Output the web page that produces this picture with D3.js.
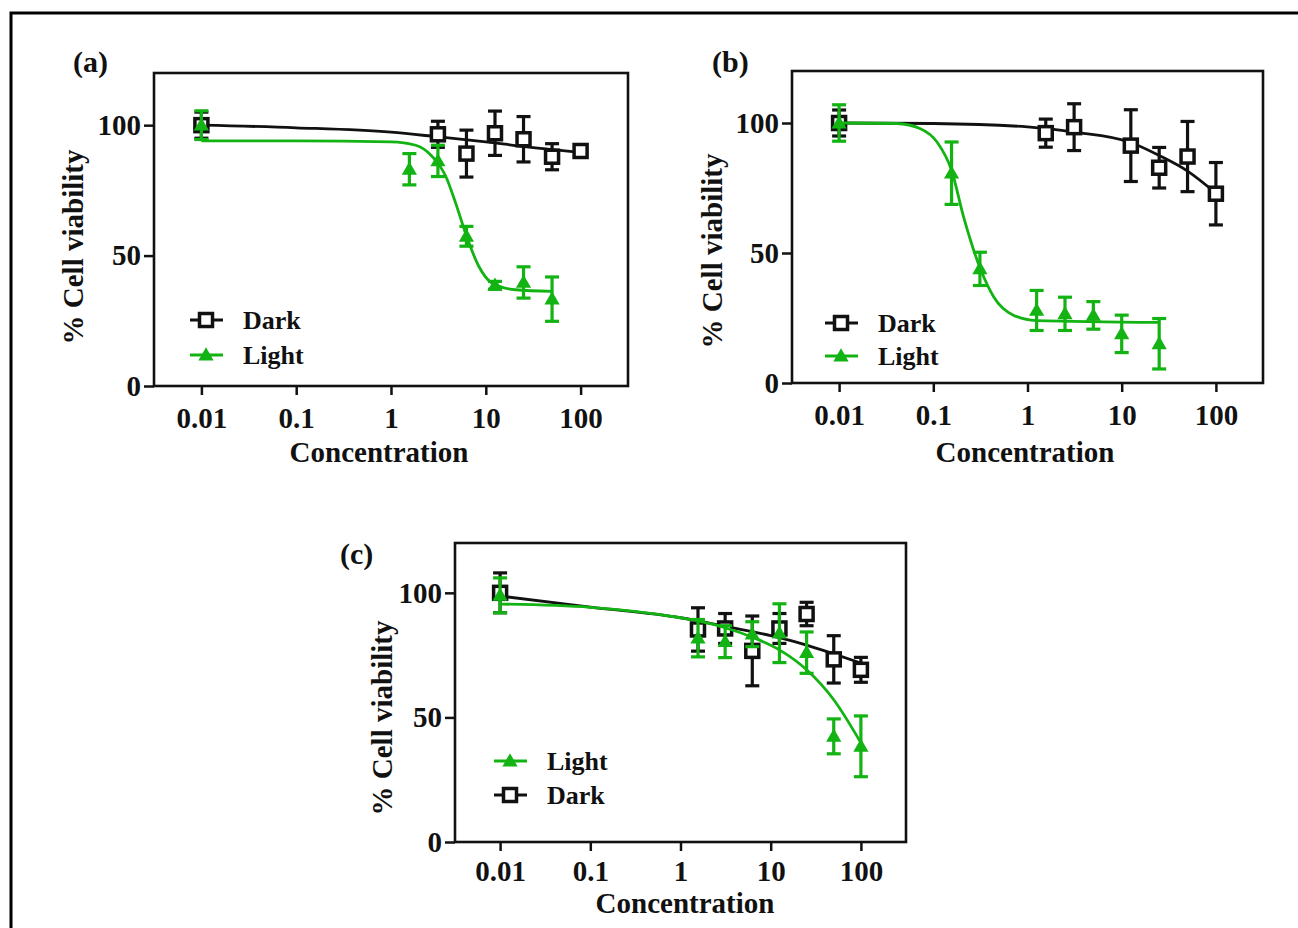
<!DOCTYPE html>
<html>
<head>
<meta charset="utf-8">
<script src="https://cdn.jsdelivr.net/npm/d3@7"></script>
<style>
  body { margin: 0; background: #fff; }
  text { font-family: "Liberation Serif", "Times New Roman", serif; font-weight: bold; fill: #111; }
</style>
</head>
<body>
<div id="container"></div>
<script>
const width = 1298;
const height = 928;
const green = "#12b312";
const dark = "#111";

// ---- data ----
const xTicks = [0.01, 0.1, 1, 10, 100];
const yTicks = [0, 50, 100];

// panel (a)
const aDarkConc = [0.01, 3.125, 6.25, 12.5, 25, 50, 100];
const aDarkMean = [100, 96.5, 89.1, 96.9, 94.6, 87.9, 90.1];
const aDarkErr  = [5, 5, 9, 8.5, 8.7, 5, 2];
const aLightConc = [0.01, 1.5625, 3.125, 6.25, 12.5, 25, 50];
const aLightMean = [100, 83.1, 86.3, 57.4, 38.6, 39.7, 33.3];
const aLightErr  = [5.5, 6, 6, 3.8, 1.5, 6, 8.5];
const aDarkFitX  = [0.01, 0.1, 1, 3, 10, 30, 100];
const aDarkFitY  = [100, 99, 97.3, 95.6, 93.6, 91.5, 89.6];
const aLightFitX = [0.01, 0.1, 1, 1.82, 2.69, 3.77, 4.79, 6.27, 8.43, 11.6, 20.6, 50];
const aLightFitY = [94, 94, 93.6, 92.3, 88.2, 80.5, 70.3, 57.4, 45.9, 39.5, 36.9, 36.3];

// panel (b)
const bDarkConc = [0.01, 1.5625, 3.125, 12.5, 25, 50, 100];
const bDarkMean = [100, 96.1, 98.4, 91.3, 82.8, 87.1, 72.8];
const bDarkErr  = [5, 5.4, 9, 13.8, 7.8, 13.5, 12];
const bLightConc = [0.01, 0.15625, 0.3125, 1.25, 2.5, 5, 10, 25];
const bLightMean = [100, 80.7, 43.9, 27.9, 26.6, 26, 18.9, 15.1];
const bLightErr  = [7, 12, 6.4, 7.7, 6.4, 5.3, 7.2, 9.7];
const bDarkFitX  = [0.01, 0.1, 1, 3.125, 12.5, 25, 50, 100];
const bDarkFitY  = [100, 99.8, 98.5, 96.5, 92.5, 87.5, 81.5, 73];
const bLightFitX = [0.01, 0.041, 0.073, 0.11, 0.156, 0.21, 0.316, 0.44, 0.716, 1.25, 25];
const bLightFitY = [100, 99.8, 97.8, 92.6, 81.9, 63.8, 43.9, 33, 26, 24, 23.3];

// panel (c)
const cDarkConc = [0.01, 1.5625, 3.125, 6.25, 12.5, 25, 50, 100];
const cDarkMean = [100, 85.3, 85.7, 76.7, 85.7, 91.5, 73.3, 69.1];
const cDarkErr  = [8, 8.7, 6, 14, 6, 4.7, 9.5, 5];
const cLightConc = [0.01, 1.5625, 3.125, 6.25, 12.5, 25, 50, 100];
const cLightMean = [99, 81.8, 80.4, 83.4, 83.8, 76, 42.4, 38.4];
const cLightErr  = [7, 7.5, 6.4, 5, 11.8, 8.3, 7, 12.2];
const cDarkFitX  = [0.01, 0.1, 1, 3.125, 12.5, 25, 50, 100];
const cDarkFitY  = [98.7, 94.3, 90, 86.5, 82, 79, 75.5, 71.8];
const cLightFitX = [0.01, 0.1, 1, 1.5625, 3.125, 6.25, 12.5, 25, 50, 100];
const cLightFitY = [95.5, 94.2, 90, 88.7, 86, 82.2, 77.1, 69.1, 57.1, 39.8];

const zip = (xs, ys, es) => xs.map((x, i) => ({x: x, y: ys[i], e: es ? es[i] : 0}));

const panels = [
  {
    label: "(a)", box: {left: 154, top: 73, right: 628, bottom: 386}, pad: 12,
    labelPos: [73, 72], xTitlePos: [379, 462], yTitlePos: [83, 247],
    dark: zip(aDarkConc, aDarkMean, aDarkErr), light: zip(aLightConc, aLightMean, aLightErr),
    darkFit: zip(aDarkFitX, aDarkFitY), lightFit: zip(aLightFitX, aLightFitY),
    legend: [["Dark", 190, 320], ["Light", 190, 355]]
  },
  {
    label: "(b)", box: {left: 792, top: 71, right: 1263, bottom: 383}, pad: 12,
    labelPos: [712, 72], xTitlePos: [1025, 462], yTitlePos: [722, 251],
    dark: zip(bDarkConc, bDarkMean, bDarkErr), light: zip(bLightConc, bLightMean, bLightErr),
    darkFit: zip(bDarkFitX, bDarkFitY), lightFit: zip(bLightFitX, bLightFitY),
    legend: [["Dark", 825, 323], ["Light", 825, 356]]
  },
  {
    label: "(c)", box: {left: 455, top: 543, right: 906, bottom: 842}, pad: 9,
    labelPos: [340, 564], xTitlePos: [685, 913], yTitlePos: [392, 718],
    dark: zip(cDarkConc, cDarkMean, cDarkErr), light: zip(cLightConc, cLightMean, cLightErr),
    darkFit: zip(cDarkFitX, cDarkFitY), lightFit: zip(cLightFitX, cLightFitY),
    legend: [["Light", 494, 761], ["Dark", 494, 795]]
  }
];

const svg = d3.select("#container")
              .append("svg")
              .attr("width", width)
              .attr("height", height);

svg.append("rect")
   .attr("width", width).attr("height", height)
   .attr("fill", "#fff");

// outer frame (runs off the right and bottom edge)
svg.append("rect")
   .attr("x", 11).attr("y", 13)
   .attr("width", 1400).attr("height", 1000)
   .attr("fill", "none")
   .attr("stroke", "#000")
   .attr("stroke-width", 3);

const triangle = d3.symbol().type(d3.symbolTriangle).size(100);

function drawMarker(g, kind, cx, cy) {
  if (kind === "Dark") {
    g.append("rect")
     .attr("x", cx - 6.5).attr("y", cy - 6.5)
     .attr("width", 13).attr("height", 13)
     .attr("fill", "#fff")
     .attr("stroke", dark)
     .attr("stroke-width", 3.5);
  } else {
    g.append("path")
     .attr("d", triangle())
     .attr("transform", "translate(" + cx + "," + (cy + 1) + ")")
     .attr("fill", green);
  }
}

panels.forEach(p => {
  const g = svg.append("g");
  const x = d3.scaleLog()
              .domain([Math.pow(10, -2.5), Math.pow(10, 2.5)])
              .range([p.box.left, p.box.right]);
  const y = d3.scaleLinear()
              .domain([0, 120])
              .range([p.box.bottom, p.box.top]);

  // axes
  const xAxis = g.append("g")
                 .attr("transform", "translate(0," + p.box.bottom + ")")
                 .call(d3.axisBottom(x).tickValues(xTicks).tickFormat(d3.format("~g"))
                         .tickSize(9).tickSizeOuter(0).tickPadding(p.pad));
  const yAxis = g.append("g")
                 .attr("transform", "translate(" + p.box.left + ",0)")
                 .call(d3.axisLeft(y).tickValues(yTicks).tickSize(10).tickSizeOuter(0).tickPadding(3));
  [xAxis, yAxis].forEach(a => {
    a.select(".domain").remove();
    a.selectAll(".tick line").attr("stroke", dark).attr("stroke-width", 2.5);
    a.selectAll(".tick text")
     .attr("fill", dark)
     .style("font-size", "29px");
  });

  g.append("rect")
   .attr("x", p.box.left).attr("y", p.box.top)
   .attr("width", p.box.right - p.box.left)
   .attr("height", p.box.bottom - p.box.top)
   .attr("fill", "none")
   .attr("stroke", dark)
   .attr("stroke-width", 2.6);

  // titles
  g.append("text")
   .attr("x", p.labelPos[0]).attr("y", p.labelPos[1])
   .style("font-size", "30px")
   .text(p.label);
  g.append("text")
   .attr("x", p.xTitlePos[0]).attr("y", p.xTitlePos[1])
   .attr("text-anchor", "middle")
   .style("font-size", "29px")
   .text("Concentration");
  g.append("text")
   .attr("transform", "translate(" + p.yTitlePos[0] + "," + p.yTitlePos[1] + ") rotate(-90)")
   .attr("text-anchor", "middle")
   .style("font-size", "29px")
   .text("% Cell viability");

  const line = d3.line()
                 .x(d => x(d.x))
                 .y(d => y(d.y))
                 .curve(d3.curveMonotoneX);

  const series = [["Dark", p.dark, p.darkFit, dark], ["Light", p.light, p.lightFit, green]];

  series.forEach(s => {
    const col = s[3];
    g.append("path")
     .datum(s[2])
     .attr("d", line)
     .attr("fill", "none")
     .attr("stroke", col)
     .attr("stroke-width", 2.8);

    const bars = g.append("g")
                  .attr("stroke", col)
                  .attr("stroke-width", 3.2);
    bars.selectAll("line.v")
        .data(s[1])
        .enter()
        .append("line")
        .attr("class", "v")
        .attr("x1", d => x(d.x)).attr("x2", d => x(d.x))
        .attr("y1", d => y(d.y + d.e)).attr("y2", d => y(d.y - d.e));
    bars.selectAll("line.top")
        .data(s[1])
        .enter()
        .append("line")
        .attr("class", "top")
        .attr("x1", d => x(d.x) - 7).attr("x2", d => x(d.x) + 7)
        .attr("y1", d => y(d.y + d.e)).attr("y2", d => y(d.y + d.e));
    bars.selectAll("line.bot")
        .data(s[1])
        .enter()
        .append("line")
        .attr("class", "bot")
        .attr("x1", d => x(d.x) - 7).attr("x2", d => x(d.x) + 7)
        .attr("y1", d => y(d.y - d.e)).attr("y2", d => y(d.y - d.e));

    const marks = g.append("g");
    s[1].forEach(d => drawMarker(marks, s[0], x(d.x), y(d.y)));
  });

  // legend
  p.legend.forEach(l => {
    const col = l[0] === "Dark" ? dark : green;
    const lg = g.append("g");
    lg.append("line")
      .attr("x1", l[1]).attr("x2", l[1] + 33)
      .attr("y1", l[2]).attr("y2", l[2])
      .attr("stroke", col)
      .attr("stroke-width", 3);
    drawMarker(lg, l[0], l[1] + 16, l[2]);
    lg.append("text")
      .attr("x", l[1] + 53).attr("y", l[2] + 9)
      .style("font-size", "26px")
      .text(l[0]);
  });
});
</script>
</body>
</html>
